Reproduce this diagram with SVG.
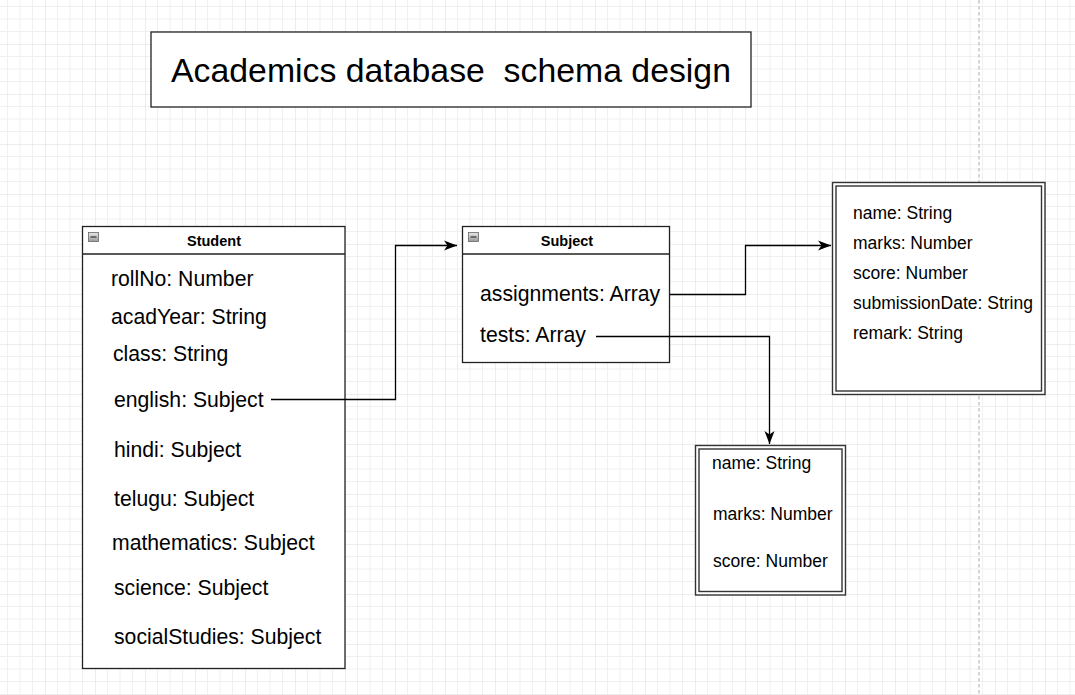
<svg xmlns="http://www.w3.org/2000/svg" width="1075" height="695" viewBox="0 0 1075 695">
<defs>
<pattern id="grid" patternUnits="userSpaceOnUse" x="-5" y="-6" width="50" height="50">
<path d="M12.5,0V50M25,0V50M37.5,0V50M0,12.5H50M0,25H50M0,37.5H50" stroke="#f0f0f0" stroke-width="1" fill="none"/>
<path d="M0,0V50M0,0H50" stroke="#dcdcdc" stroke-width="1" fill="none"/>
</pattern>
<marker id="arr" markerUnits="userSpaceOnUse" markerWidth="14" markerHeight="12" viewBox="0 0 14 12" refX="13" refY="6" orient="auto">
<path d="M0,1 L13,6 L0,11 L3.5,6 z" fill="#000"/>
</marker>
<linearGradient id="ig" x1="0" y1="0" x2="0" y2="1">
<stop offset="0" stop-color="#e8e8e8"/>
<stop offset="1" stop-color="#9a9a9a"/>
</linearGradient>
</defs>
<style>
.box{fill:#fff;stroke:#222;stroke-width:1.3}
.dbl{fill:#fff;stroke:#333;stroke-width:1.4}
.t{font-family:"Liberation Sans",Arial,sans-serif;fill:#000}
.attr{font-size:21.2px}
.sm{font-size:17.5px}
.hd{font-size:14.5px;font-weight:bold;text-anchor:middle}
.conn{fill:none;stroke:#000;stroke-width:1.3}
.icon{fill:url(#ig);stroke:#666;stroke-width:0.8}
</style>
<rect width="1075" height="695" fill="#fff"/>
<rect width="1075" height="695" fill="url(#grid)"/>
<line x1="979" y1="0" x2="979" y2="695" stroke="#c8c8c8" stroke-width="1.5" stroke-dasharray="3.5,2.5"/>

<g id="title">
<rect class="box" x="151" y="32" width="600" height="75" stroke="#000"/>
<text class="t" x="451" y="82" font-size="33.8" text-anchor="middle" xml:space="preserve" style="white-space:pre">Academics database  schema design</text>
</g>

<g id="student">
<rect class="box" x="82.5" y="226.5" width="262.5" height="442"/>
<line x1="82.5" y1="254" x2="345" y2="254" stroke="#222" stroke-width="1.3"/>
<rect class="icon" x="88.5" y="232.5" width="10" height="9"/>
<line x1="90.5" y1="237" x2="96.5" y2="237" stroke="#333" stroke-width="1.2"/>
<text class="t hd" x="214" y="246">Student</text>
<text class="t attr" x="111" y="286">rollNo: Number</text>
<text class="t attr" x="111" y="324">acadYear: String</text>
<text class="t attr" x="113" y="361">class: String</text>
<text class="t attr" x="114" y="407">english: Subject</text>
<text class="t attr" x="114" y="457">hindi: Subject</text>
<text class="t attr" x="114" y="506">telugu: Subject</text>
<text class="t attr" x="112" y="550">mathematics: Subject</text>
<text class="t attr" x="114" y="595">science: Subject</text>
<text class="t attr" x="114" y="644">socialStudies: Subject</text>
</g>

<g id="subject">
<rect class="box" x="462.5" y="226.5" width="207" height="136"/>
<line x1="462.5" y1="254" x2="669.5" y2="254" stroke="#222" stroke-width="1.3"/>
<rect class="icon" x="468.5" y="232.5" width="10" height="9"/>
<line x1="470.5" y1="237" x2="476.5" y2="237" stroke="#333" stroke-width="1.2"/>
<text class="t hd" x="567" y="246">Subject</text>
<text class="t attr" x="480" y="301">assignments: Array</text>
<text class="t attr" x="480" y="342">tests: Array</text>
</g>

<g id="assignment">
<rect class="dbl" x="832.5" y="182.5" width="212.5" height="212"/>
<rect class="dbl" x="836" y="186" width="205.5" height="205"/>
<text class="t sm" x="853" y="219">name: String</text>
<text class="t sm" x="853" y="249">marks: Number</text>
<text class="t sm" x="853" y="279">score: Number</text>
<text class="t sm" x="853" y="309">submissionDate: String</text>
<text class="t sm" x="853" y="339">remark: String</text>
</g>

<g id="test">
<rect class="dbl" x="695.5" y="445.5" width="150" height="149.5"/>
<rect class="dbl" x="699" y="449" width="143" height="142.5"/>
<text class="t sm" x="712" y="469">name: String</text>
<text class="t sm" x="713" y="520">marks: Number</text>
<text class="t sm" x="713" y="567">score: Number</text>
</g>

<g id="connectors">
<path class="conn" d="M271,399.5 H395.5 V245.5 H457" marker-end="url(#arr)"/>
<path class="conn" d="M670,294.5 H745.5 V245.5 H831" marker-end="url(#arr)"/>
<path class="conn" d="M596,336.5 H769.5 V444" marker-end="url(#arr)"/>
</g>
</svg>
